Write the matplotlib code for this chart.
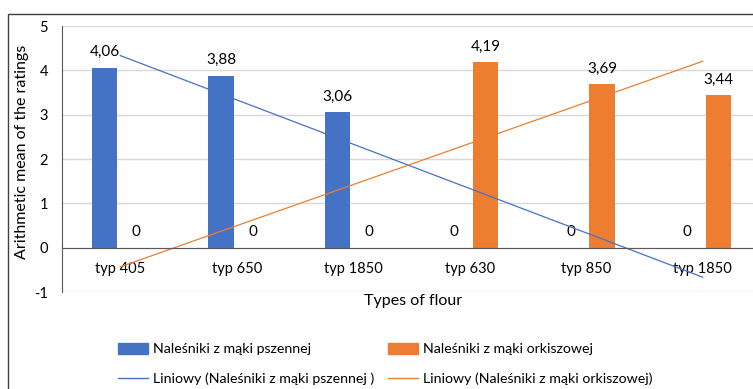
import matplotlib
matplotlib.use("Agg")
import matplotlib.pyplot as plt
import numpy as np
from matplotlib.patches import Rectangle, Patch
from matplotlib.lines import Line2D

# Ratings per flour type
categories = ["typ 405", "typ 650", "typ 1850", "typ 630", "typ 850", "typ 1850"]
wheat = [4.06, 3.88, 3.06, 0, 0, 0]
spelt = [0, 0, 0, 4.19, 3.69, 3.44]
wheat_name = "Naleśniki z mąki pszennej"
spelt_name = "Naleśniki z mąki orkiszowej"
wheat_trend_name = "Liniowy (Naleśniki z mąki pszennej )"
spelt_trend_name = "Liniowy (Naleśniki z mąki orkiszowej)"

BLUE = "#4472C4"
ORANGE = "#ED7D31"
TXT = "#000000"

plt.rcParams["font.family"] = ["Lato", "DejaVu Sans"]

W, H = 753, 389
fig = plt.figure(figsize=(W / 100, H / 100), dpi=100)

# chart frame (extends past the right and bottom edges)
fig.patches.append(Rectangle((8 / W, -0.1), 1.2, (H - 14) / H + 0.1,
                             transform=fig.transFigure, fill=False,
                             edgecolor="#404040", linewidth=1.0))

ax = fig.add_axes([62 / W, (H - 292) / H, (761 - 62) / W, (292 - 26) / H])
x = np.arange(1, len(categories) + 1)
bw = 0.22
off = 0.135
b1 = ax.bar(x - off, wheat, bw, color=BLUE, zorder=3)
b2 = ax.bar(x + off, spelt, bw, color=ORANGE, zorder=3)

def fmt(v):
    return "0" if v == 0 else f"{v:.2f}".replace(".", ",")

ax.bar_label(b1, labels=[fmt(v) for v in wheat], padding=6, fontsize=11, color=TXT)
ax.bar_label(b2, labels=[fmt(v) for v in spelt], padding=6, fontsize=11, color=TXT)

# linear trendlines over category index
for vals, col in ((wheat, BLUE), (spelt, ORANGE)):
    k, b = np.polyfit(x, vals, 1)
    ax.plot(x, k * x + b, color=col, linewidth=0.9, zorder=4)

ax.set_xlim(0.5, 6.5)
ax.set_ylim(-1, 5)
ax.set_yticks(range(-1, 6))
ax.set_yticklabels([str(v) for v in range(-1, 6)], fontsize=10.5)
ax.yaxis.grid(True, color="#D9D9D9", linewidth=1.0, zorder=0)
ax.set_axisbelow(True)

for s in ("top", "right"):
    ax.spines[s].set_visible(False)
ax.spines["left"].set_color("#595959")
ax.spines["bottom"].set_position(("data", 0))
ax.spines["bottom"].set_color("#595959")
ax.spines["bottom"].set_zorder(5)

ax.set_xticks(x)
ax.set_xticklabels(categories, fontsize=10.5)
ax.tick_params(axis="x", length=0, pad=10)
ax.tick_params(axis="y", length=0, pad=10)

fig.text(22 / W, 1 - 152 / H, "Arithmetic mean of the ratings", rotation=90,
         ha="center", va="center", fontsize=11.5, color=TXT)
fig.text(413 / W, 1 - 301 / H, "Types of flour", ha="center", va="center",
         fontsize=11.5, color=TXT)

# legend
handles = [Patch(color=BLUE), Patch(color=ORANGE),
           Line2D([], [], color=BLUE, lw=1), Line2D([], [], color=ORANGE, lw=1)]
labels = [wheat_name, spelt_name, wheat_trend_name, spelt_trend_name]
order = [0, 2, 1, 3]
fig.legend([handles[i] for i in order], [labels[i] for i in order], ncol=2,
           loc="upper left", bbox_to_anchor=(118 / W, 1 - 343 / H), frameon=False,
           fontsize=10.2, handlelength=2.1, handleheight=0.8, handletextpad=0.35,
           columnspacing=1.0, labelspacing=1.2, borderpad=0, borderaxespad=0)

fig.savefig("out.png", dpi=100)
